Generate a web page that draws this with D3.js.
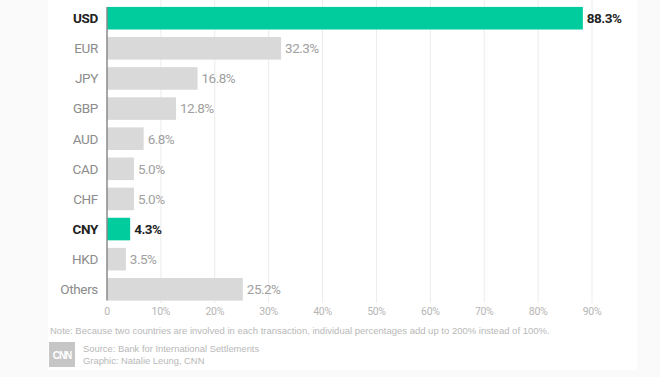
<!DOCTYPE html>
<html><head><meta charset="utf-8">
<script src="https://cdn.jsdelivr.net/npm/d3@7"></script>
<style>
html,body{margin:0;padding:0;background:#fafafa;}
svg{display:block;}
</style></head>
<body>
<script>
const categories = ["USD","EUR","JPY","GBP","AUD","CAD","CHF","CNY","HKD","Others"];
const values = [88.3,32.3,16.8,12.8,6.8,5.0,5.0,4.3,3.5,25.2];
const highlighted = ["USD","CNY"];
const tickValues = [0,10,20,30,40,50,60,70,80,90];
const noteText = "Note: Because two countries are involved in each transaction, individual percentages add up to 200% instead of 100%.";
const sourceText = "Source: Bank for International Settlements";
const creditText = "Graphic: Natalie Leung, CNN";

const W = 660, H = 377;
const font = "'Roboto',sans-serif";
const svg = d3.select("body").append("svg").attr("width", W).attr("height", H);
svg.append("rect").attr("x",48).attr("y",0).attr("width",589).attr("height",370).attr("fill","#fff");

const x = d3.scaleLinear().domain([0,90]).range([107,592]);
const y = d3.scaleBand().domain(categories).range([4.5,303]).paddingInner(0.25).paddingOuter(0.08);

// gridlines
svg.append("g").selectAll("line").data(tickValues.filter(d=>d>0)).join("line")
  .attr("x1",d=>x(d)).attr("x2",d=>x(d)).attr("y1",0).attr("y2",303)
  .attr("stroke","#ececec").attr("stroke-width",1);

// tick labels
svg.append("g").selectAll("text").data(tickValues).join("text")
  .attr("x",d=>x(d)).attr("y",315).attr("text-anchor","middle")
  .attr("font-family",font).attr("font-size",10.5).attr("letter-spacing",-0.3).attr("fill","#b5b5b5")
  .text(d=>d===0?"0":d+"%");

const isHi = d => highlighted.includes(d);
const data = categories.map((c,i)=>({c, v: values[i]}));

svg.append("g").selectAll("rect").data(data).join("rect")
  .attr("x",x(0)).attr("y",d=>y(d.c)).attr("width",d=>x(d.v)-x(0)).attr("height",y.bandwidth())
  .attr("fill",d=>isHi(d.c)?"#00cc9e":"#d9d9d9");

// axis line
svg.append("line").attr("x1",x(0)).attr("x2",x(0)).attr("y1",y(categories[0])).attr("y2",y(categories[9])+y.bandwidth())
  .attr("stroke","#8a8a8a").attr("stroke-width",1.5);

// category labels
svg.append("g").selectAll("text").data(data).join("text")
  .attr("x",98).attr("y",d=>y(d.c)+y.bandwidth()/2).attr("dy","0.36em")
  .attr("text-anchor","end").attr("font-family",font).attr("font-size",13.5).attr("letter-spacing",-0.35)
  .attr("font-weight",d=>isHi(d.c)?"bold":"normal")
  .attr("fill",d=>isHi(d.c)?"#222":"#8c8c8c")
  .text(d=>d.c);

// value labels
svg.append("g").selectAll("text").data(data).join("text")
  .attr("x",d=>x(d.v)+4).attr("y",d=>y(d.c)+y.bandwidth()/2).attr("dy","0.36em")
  .attr("font-family",font).attr("font-size",13.5).attr("letter-spacing",-0.5)
  .attr("font-weight",d=>isHi(d.c)?"bold":"normal")
  .attr("fill",d=>isHi(d.c)?"#222":"#a0a0a0")
  .text(d=>d.v.toFixed(1)+"%");

// footer
const ff = "'Liberation Sans',Arial,sans-serif";
svg.append("text").attr("x",50).attr("y",334).attr("font-family",ff).attr("font-size",9.5).attr("fill","#b8b8b8").text(noteText);
svg.append("rect").attr("x",49).attr("y",342).attr("width",26).attr("height",25).attr("fill","#c6c6c6");
svg.append("text").attr("x",62).attr("y",358.5).attr("text-anchor","middle").attr("font-family",ff).attr("font-weight","bold").attr("font-size",10).attr("letter-spacing",-1).attr("fill","#fff").text("CNN");
svg.append("text").attr("x",83).attr("y",352).attr("font-family",ff).attr("font-size",9.4).attr("fill","#b8b8b8").text(sourceText);
svg.append("text").attr("x",83).attr("y",364).attr("font-family",ff).attr("font-size",9.4).attr("fill","#b8b8b8").text(creditText);
</script>
</body></html>
